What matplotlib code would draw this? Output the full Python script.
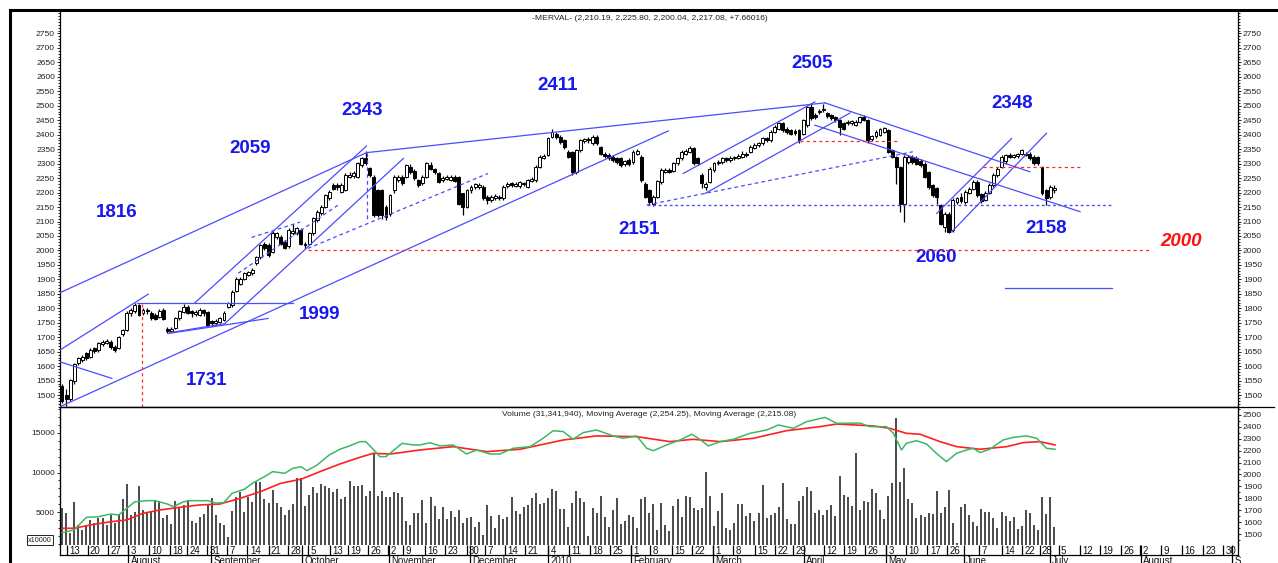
import matplotlib
matplotlib.use('Agg')
import matplotlib.pyplot as plt
from matplotlib.lines import Line2D
from matplotlib.ticker import MultipleLocator
import numpy as np

plt.rcParams['font.family'] = ['Liberation Sans', 'DejaVu Sans']

# ---------------- data ----------------
opens = [1530,1500,1485,1548,1610,1620,1644,1633,1662,1656,1675,1680,1685,1667,1662,1711,1725,1783,1790,1811,
 1785,1795,1783,1778,1770,1794,1730,1722,1731,1765,1788,1804,1790,1780,1777,1794,1788,1756,1748,1752,
 1760,1805,1811,1860,1885,1903,1915,1921,1955,1978,2024,2019,1996,2047,2047,2030,2015,2062,2059,2070,
 2024,2024,2059,2105,2128,2151,2182,2226,2226,2203,2209,2255,2258,2255,2295,2318,2284,2255,2209,2209,
 2151,2125,2209,2243,2255,2255,2289,2275,2243,2232,2255,2295,2280,2266,2243,2248,2245,2254,2254,2197,
 2151,2208,2218,2220,2220,2185,2174,2180,2182,2180,2222,2232,2224,2222,2232,2220,2240,2243,2289,2320,
 2330,2393,2404,2393,2381,2341,2341,2272,2347,2378,2386,2370,2393,2358,2335,2330,2324,2318,2318,2298,
 2312,2306,2335,2324,2231,2208,2162,2185,2237,2272,2278,2275,2301,2318,2335,2341,2353,2318,2262,2220,
 2237,2278,2301,2306,2318,2312,2318,2320,2324,2335,2341,2355,2364,2370,2387,2381,2410,2421,2439,2420,
 2416,2412,2416,2404,2433,2497,2468,2478,2485,2475,2468,2462,2450,2440,2440,2440,2435,2445,2462,2450,
 2385,2395,2400,2410,2416,2347,2324,2289,2162,2305,2324,2320,2310,2300,2272,2226,2215,2157,2081,2127,
 2070,2168,2185,2168,2200,2214,2237,2195,2175,2200,2226,2260,2289,2310,2330,2324,2326,2335,2335,2335,
 2324,2322,2289,2208,2185,2210]
highs = [1538,1520,1556,1612,1632,1640,1650,1662,1668,1685,1692,1695,1692,1672,1706,1730,1790,1800,1817,1815,
 1800,1802,1790,1785,1796,1800,1735,1736,1770,1794,1815,1810,1795,1795,1800,1798,1792,1760,1762,1770,
 1790,1822,1862,1908,1908,1925,1930,1938,1982,2024,2030,2025,2066,2065,2052,2036,2076,2090,2082,2078,
 2030,2064,2116,2140,2156,2196,2208,2232,2232,2232,2266,2270,2275,2306,2324,2343,2290,2260,2212,2214,
 2156,2196,2260,2262,2260,2300,2298,2280,2248,2260,2306,2305,2286,2270,2256,2262,2262,2262,2258,2200,
 2212,2226,2234,2232,2226,2190,2190,2194,2192,2226,2236,2238,2236,2240,2238,2248,2254,2294,2330,2334,
 2392,2418,2411,2398,2386,2346,2345,2352,2386,2390,2392,2398,2398,2362,2340,2336,2330,2322,2322,2314,
 2318,2346,2350,2330,2236,2212,2190,2245,2284,2284,2284,2306,2324,2346,2350,2362,2358,2322,2266,2236,
 2288,2306,2312,2324,2324,2326,2328,2332,2342,2340,2364,2370,2376,2392,2392,2415,2432,2444,2444,2426,
 2420,2420,2420,2455,2500,2508,2475,2490,2505,2480,2472,2466,2455,2445,2450,2452,2450,2465,2468,2455,
 2400,2415,2424,2428,2420,2352,2328,2292,2330,2330,2330,2325,2316,2305,2276,2230,2220,2162,2133,2132,
 2180,2186,2200,2208,2220,2242,2242,2200,2206,2232,2266,2288,2330,2335,2336,2335,2338,2352,2340,2340,
 2330,2326,2293,2212,2225,2226]
lows = [1472,1462,1480,1540,1605,1615,1622,1628,1645,1650,1670,1675,1660,1648,1658,1705,1720,1775,1785,1772,
 1778,1782,1760,1758,1765,1758,1716,1718,1728,1760,1785,1780,1770,1772,1772,1775,1738,1740,1742,1748,
 1755,1800,1806,1855,1880,1898,1910,1916,1950,1972,2000,1978,1990,2040,2018,2004,2010,2055,2052,2018,
 2005,2018,2052,2100,2122,2146,2176,2208,2210,2198,2204,2250,2252,2250,2290,2295,2255,2116,2115,2110,
 2105,2118,2200,2238,2226,2250,2264,2245,2220,2226,2250,2278,2265,2232,2238,2242,2240,2236,2158,2122,
 2145,2200,2212,2214,2175,2160,2168,2175,2176,2175,2216,2220,2218,2216,2222,2215,2235,2238,2284,2315,
 2325,2388,2386,2368,2350,2318,2260,2265,2340,2372,2372,2365,2365,2330,2318,2312,2306,2300,2290,2292,
 2292,2300,2330,2238,2180,2157,2155,2180,2230,2268,2266,2270,2296,2312,2330,2336,2296,2294,2215,2208,
 2232,2272,2295,2300,2306,2306,2312,2315,2318,2322,2336,2350,2358,2365,2375,2376,2405,2415,2410,2404,
 2398,2398,2370,2398,2428,2450,2454,2472,2480,2458,2450,2444,2400,2415,2435,2435,2430,2440,2446,2370,
 2378,2390,2395,2405,2336,2318,2230,2133,2099,2300,2300,2295,2290,2250,2214,2185,2160,2088,2064,2060,
 2064,2160,2165,2162,2195,2208,2186,2165,2170,2195,2220,2255,2284,2300,2318,2318,2320,2330,2325,2312,
 2296,2296,2190,2158,2178,2200]
closes = [1480,1485,1552,1608,1627,1632,1630,1656,1652,1679,1685,1687,1665,1656,1702,1725,1785,1794,1811,1778,
 1795,1790,1765,1762,1790,1762,1722,1730,1765,1790,1806,1785,1785,1788,1794,1783,1742,1748,1756,1765,
 1783,1817,1857,1903,1900,1921,1925,1932,1978,2019,2007,1984,2059,2059,2024,2010,2070,2068,2076,2024,
 2019,2059,2111,2134,2151,2191,2203,2214,2218,2226,2260,2262,2268,2301,2318,2301,2260,2122,2122,2122,
 2117,2190,2255,2255,2232,2295,2270,2250,2226,2255,2301,2283,2270,2237,2250,2255,2255,2240,2162,2151,
 2208,2220,2228,2226,2180,2174,2185,2188,2186,2220,2231,2226,2230,2235,2228,2243,2248,2289,2324,2328,
 2387,2410,2393,2375,2358,2324,2272,2347,2381,2384,2380,2393,2370,2335,2325,2318,2312,2306,2295,2308,
 2298,2341,2345,2243,2185,2168,2185,2240,2278,2278,2272,2301,2318,2341,2345,2353,2301,2301,2232,2230,
 2283,2301,2306,2318,2312,2318,2322,2326,2335,2330,2358,2364,2370,2387,2381,2410,2427,2439,2416,2410,
 2404,2405,2381,2450,2495,2456,2460,2482,2490,2465,2456,2450,2425,2420,2445,2446,2445,2460,2452,2381,
 2395,2410,2418,2422,2341,2324,2289,2162,2324,2324,2305,2300,2295,2255,2220,2191,2185,2093,2127,2064,
 2174,2180,2170,2203,2214,2237,2191,2170,2200,2226,2260,2283,2324,2330,2324,2330,2332,2347,2330,2318,
 2301,2301,2197,2180,2220,2217]
volume = [5470,4830,2300,6300,3360,2700,3360,3970,3550,4180,4180,3360,4600,3550,4600,6600,8540,4600,5040,8290,
 5250,5040,5040,6430,6430,4300,4600,3470,6430,5590,5900,6520,3860,3550,4390,4690,5840,6730,4600,3550,
 3360,1880,5170,6860,7580,5040,6940,6260,8840,8840,6600,6100,7800,6100,5590,4600,5250,6010,9260,9260,
 5760,7200,8120,7450,8540,8290,8000,7580,7880,6650,6940,8970,8290,8290,8420,7030,7710,12500,7030,7700,
 6860,6860,7580,7450,6860,3900,3360,4830,4830,6520,3650,6860,5760,4070,5590,4070,5130,4410,5250,3650,
 4200,4410,3140,3690,2090,5890,4490,3020,4580,4070,4330,6860,5170,4750,5590,5890,6730,7450,6010,6100,
 6800,7910,7700,5340,5340,3140,6100,7660,6730,6310,1960,5550,4830,7030,4330,3140,5250,6730,3440,3900,
 4580,4330,3020,6690,6940,4830,6010,2720,6100,3360,2590,5800,6600,4330,7030,6860,5550,5250,5470,10110,
 7030,3230,5170,7450,2940,2720,3650,6010,6010,4490,4830,3900,4900,8420,4240,4580,4900,5670,8720,4110,
 3480,3480,6390,7030,8120,7700,4830,5250,4580,5250,5890,4490,9560,7150,6940,5760,12500,5250,6430,6310,
 7870,7360,5250,4110,7030,8630,16860,8840,10530,6600,6180,4200,4580,4330,4830,4700,7700,4830,5670,7780,
 3650,1120,5590,5970,4580,3780,3230,5380,5040,5000,4200,2940,5040,4490,3900,4410,2810,3230,5250,4830,
 3360,2720,6940,4700,6860,3140]

# moving averages of price (sampled: trading-day index, value)
ma_fast_day = [0,3,6,9,12,14,16,18,21,23,26,27.5,30,32,36,38,40,42,45,47,50,52,55,57,59,60.5,63,66,68.6,71,
 73.6,75,77,78.5,80,82,84,86.7,88.4,90.9,93.3,96.6,99.9,102.4,105.7,108.1,111.4,115.6,118.8,121.3,123.8,
 126.2,128.7,132,136.1,138.6,141.9,144.4,146,149.3,152.6,155.5,157.5,159.6,162.5,165.8,169.9,174,176.9,
 180.6,183.9,188.4,191.3,197,199.5,203.6,205.3,207.3,208.5,211,213.5,215.9,218.4,220.9,223.4,225,226.7,
 229.1,232.4,234.9,238.2,240.7,243.1,245.2]
ma_fast_val = [1511,1534,1640,1645,1668,1660,1716,1771,1780,1780,1752,1730,1771,1780,1780,1759,1765,1842,1876,
 1926,1982,2024,2010,2052,2066,2032,2080,2164,2212,2240,2276,2276,2206,2150,2150,2206,2262,2248,2248,2267,
 2240,2248,2172,2206,2172,2172,2220,2234,2304,2368,2360,2296,2352,2374,2324,2304,2324,2220,2200,2248,2290,
 2338,2296,2240,2276,2296,2346,2374,2416,2388,2444,2480,2430,2432,2402,2402,2346,2206,2262,2284,2256,2178,
 2108,2178,2206,2220,2184,2212,2290,2312,2324,2304,2220,2212]
ma_slow_day = [0,3,7,12,16,20,24.2,29,34,39,44,49,54,59,63.7,68.6,73.6,76.9,81,83.5,88.4,96.6,104.9,113.1,
 123.8,132,141.9,150.1,155.8,162.5,170.7,178.9,187.2,191.3,200.3,204.4,208.5,211.9,216.8,220.9,226.7,233.3,
 237.4,241.5,245.2]
ma_slow_val = [1548,1548,1576,1603,1618,1674,1702,1724,1744,1752,1800,1856,1926,1960,2024,2088,2145,2178,2172,
 2183,2206,2234,2192,2212,2290,2324,2318,2276,2296,2276,2304,2368,2402,2424,2408,2388,2346,2338,2276,2234,
 2212,2234,2268,2276,2248]

# drawn trend lines: (day0, price0, day1, price1)
lines_solid = [(-0.5,1854,75.2,2338),(75.2,2338,188.4,2510),(-0.5,1460,149.7,2413),(-0.5,1615,12.3,1558),
 (-0.5,1656,21.3,1849),(18.4,1819,57.1,1819),(26.2,1713,50.9,1765),(26.7,1716,40.2,1747),(32.8,1819,75.2,2361),
 (40.2,1747,84.3,2318),(158.8,2197,194.6,2475),(153.4,2266,185.9,2513),(188.4,2510,239.0,2272),
 (185.9,2433,251.4,2134),(219.7,2064,243.1,2405),(216.0,2128,234.5,2387),(232.8,1871,259.3,1871)]
lines_dashed = [(43.5,1921,68.2,2157),(46.8,2045,58.8,2098),(60.7,2007,105.2,2266),(75.2,2338,75.2,2105),
 (144.4,2157,210.1,2341)]
lines_dotted = [(144.4,2157,259.5,2157)]
lines_red = [(60.7,2000,269.0,2000),(19.7,1816,19.7,1459),(182.2,2377,206.4,2377),(227.5,2288,252.2,2288)]

labels_blue = [("2343",74.1,2485),("2059",46.4,2354),("1816",13.6,2130),("1999",63.7,1780),("1731",35.6,1552),
 ("2411",122.5,2571),("2505",185.2,2647),("2348",234.6,2509),("2151",142.5,2073),("2158",243.0,2077),
 ("2060",215.8,1974)]
label_red = ("2000",276.3,2032)

week_ticks = [1.2,6.3,11.3,16.4,21.5,26.7,30.8,35.9,40.7,45.8,51.0,55.9,60.8,66.2,70.7,75.6,80.6,84.3,89.7,94.6,
 99.9,104.5,109.4,114.4,120.1,125.2,130.4,135.3,140.5,145.2,150.6,155.5,160.7,165.8,171.2,176.1,180.5,188.2,
 193.1,198.3,203.5,208.5,213.7,218.6,226.5,232.1,237.0,241.4,246.1,251.3,256.4,261.5,266.2,271.3,276.5,
 281.8,286.8]
week_labels = ["13","20","27","3","10","18","24","31","7","14","21","28","5","13","19","26","2","9","16","23",
 "30","7","14","21","4","11","18","25","1","8","15","22","1","8","15","22","29","12","19","26","3","10","17",
 "26","7","14","22","28","5","12","19","26","2","9","16","23","30"]
month_ticks = [16.4,36.7,59.2,80.8,100.7,120.1,140.4,160.7,183.2,203.5,222.7,243.9,266.4,289.0]
month_labels = ["August","September","October","November","December","2010","February","March","April","May",
 "June","July","August","S"]

# ---------------- layout ----------------
W, H = 1278, 563
fig = plt.figure(figsize=(W/100, H/100), dpi=100)
def fx(px): return px / W
def fy(py): return 1 - py / H

XL, XR = 60, 1238
ax = fig.add_axes([fx(XL), fy(407), fx(XR) - fx(XL), fy(12) - fy(407)])
axv = fig.add_axes([fx(XL), fy(545), fx(XR) - fx(XL), fy(407) - fy(545)])
axm = axv.twinx()
axd = fig.add_axes([fx(XL), fy(555), fx(XR) - fx(XL), fy(545) - fy(555)])

xlim = (-0.5, 290.4)
for a in (ax, axv, axm, axd):
    a.set_xlim(*xlim)

days = np.arange(len(closes))
o = np.array(opens); c = np.array(closes); h = np.array(highs); l = np.array(lows)

# candles
ax.vlines(days, l, h, color='black', lw=0.9, zorder=2)
up = c >= o
body_bottom = np.minimum(o, c)
body_h = np.maximum(np.abs(c - o), 1.8)
ax.bar(days, body_h, bottom=body_bottom, width=0.72,
       color=np.where(up, 'white', 'black'), edgecolor='black', linewidth=0.7, zorder=3)

ax.set_ylim(1459, 2824)
ax.set_yticks(np.arange(1500, 2751, 50))
ax.yaxis.set_minor_locator(MultipleLocator(10))
ax.tick_params(axis='y', which='major', direction='out', left=True, right=True, labelleft=True,
               labelright=True, labelsize=6.1, length=2.4, width=0.7, pad=1.2, colors='#222222')
ax.tick_params(axis='y', which='minor', direction='out', left=True, right=True, length=1.3, width=0.6)
ax.tick_params(axis='x', which='both', bottom=False, labelbottom=False)
ax.spines['top'].set_visible(False)
for s in ('left', 'right', 'bottom'):
    ax.spines[s].set_linewidth(0.9)

blue = '#4b4bff'
for x0, y0, x1, y1 in lines_solid:
    ax.plot([x0, x1], [y0, y1], color=blue, lw=0.9, zorder=4)
for x0, y0, x1, y1 in lines_dashed:
    ax.plot([x0, x1], [y0, y1], color=blue, lw=0.9, ls=(0, (3, 2.5)), zorder=4)
for x0, y0, x1, y1 in lines_dotted:
    ax.plot([x0, x1], [y0, y1], color=blue, lw=1.0, ls=(0, (2, 2)), zorder=4)
for x0, y0, x1, y1 in lines_red:
    ax.plot([x0, x1], [y0, y1], color='#ff2a2a', lw=0.9, ls=(0, (2.5, 2.5)), zorder=4)

for t, xx, yy in labels_blue:
    ax.text(xx, yy, t, color='#1717f0', fontsize=13.5, fontweight='bold', ha='center', va='center')
ax.text(label_red[1], label_red[2], label_red[0], color='#ff1010', fontsize=13.5, fontweight='bold',
        fontstyle='italic', ha='center', va='center')

# volume
axv.vlines(days, 0, volume, color='#3c3c3c', lw=1.3)
axv.set_ylim(823, 18291)
axv.set_yticks([5000, 10000, 15000])
axv.yaxis.set_minor_locator(MultipleLocator(1000))
axv.tick_params(axis='y', which='major', direction='out', labelsize=6.1, length=2.4, width=0.7, pad=1.2,
                colors='#222222')
axv.tick_params(axis='y', which='minor', direction='out', length=1.3, width=0.6)
axv.tick_params(axis='x', which='both', bottom=False, labelbottom=False)
axv.spines['bottom'].set_visible(False)
axv.spines['top'].set_linewidth(0.9)

axm.plot(ma_slow_day, ma_slow_val, color='#ff2020', lw=1.2)
axm.plot(ma_fast_day, ma_fast_val, color='#3cb864', lw=1.1)
axm.set_ylim(1407.6, 2567)
axm.set_yticks(np.arange(1500, 2501, 100))
axm.yaxis.set_minor_locator(MultipleLocator(50))
axm.tick_params(axis='y', which='major', direction='out', labelsize=6.1, length=2.4, width=0.7, pad=1.2,
                colors='#222222')
axm.tick_params(axis='y', which='minor', direction='out', length=1.3, width=0.6)
axm.spines['bottom'].set_visible(False)
for s in ('left', 'right', 'top'):
    axm.spines[s].set_linewidth(0.9)

# date band
axd.set_ylim(0, 1)
axd.set_xticks([]); axd.set_yticks([])
axd.spines['top'].set_visible(False)
for s in ('left', 'right', 'bottom'):
    axd.spines[s].set_linewidth(0.9)
axd.vlines(week_ticks, 0, 1, color='black', lw=0.9)
for p, t in zip(week_ticks, week_labels):
    axd.text(p + 0.6, 0.45, t, fontsize=7, ha='left', va='center', color='#111111')
axd.vlines(month_ticks, -0.9, 1, color='black', lw=0.9, clip_on=False)
for p, t in zip(month_ticks, month_labels):
    axd.text(p + 0.6, -0.55, t, fontsize=7, ha='left', va='center', color='#111111', clip_on=False)

# titles
fig.text(fx(650), fy(19), "-MERVAL- (2,210.19, 2,225.80, 2,200.04, 2,217.08, +7.66016)",
         fontsize=6.1, ha='center', va='center', color='#222222')
fig.text(fx(649), fy(414), "Volume (31,341,940), Moving Average (2,254.25), Moving Average (2,215.08)",
         fontsize=6.1, ha='center', va='center', color='#222222')
fig.text(fx(40), fy(540), "x10000", fontsize=5.2, ha='center', va='center', color='#222222',
         bbox=dict(boxstyle='square,pad=0.15', fc='white', ec='black', lw=0.6))

# frame
fig.add_artist(Line2D([fx(10), 1], [fy(10), fy(10)], color='black', lw=2.2))
fig.add_artist(Line2D([fx(10), fx(10)], [0, fy(10)], color='black', lw=2.2))
fig.add_artist(Line2D([fx(XR), fx(1274)], [fy(407), fy(407)], color='black', lw=0.9))

fig.savefig('out.png', dpi=100)
